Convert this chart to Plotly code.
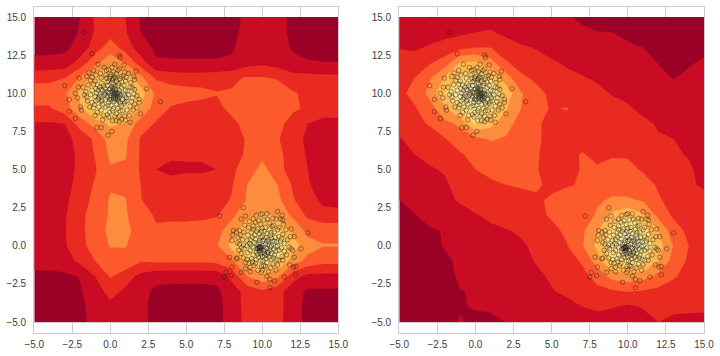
import plotly.graph_objects as go

x_nodes = list(range(-5, 16))
y_nodes = list(range(15, -6, -1))
tick_vals = [-5, -2.5, 0, 2.5, 5, 7.5, 10, 12.5, 15]
tick_text = ["−5.0", "−2.5", "0.0", "2.5", "5.0", "7.5", "10.0", "12.5", "15.0"]
band_colors = ["#9b0026", "#c90c24", "#e92a21", "#fc5a2d", "#fd8c3c", "#feb751", "#fedb79", "#ffefa6"]
contour_levels = (0.5, 6.5, 1)

left_z = [
 [0,0,0,.5,1.6,1.9,1.5,.4,.1,.1,.1,.1,.1,.2,.7,.9,.8,.3,.1,.1,.1],
 [.1,.1,.1,.55,1.6,2.1,1.6,.5,.2,.15,.15,.15,.15,.25,.8,1.0,.85,.3,.1,.1,.1],
 [.25,.25,.3,.8,2.0,3.0,2.1,.9,.35,.3,.3,.3,.3,.4,.9,1.1,.9,.4,.3,.25,.25],
 [.75,.75,.85,1.9,3.2,4.2,3.4,2.0,.6,.58,.58,.58,.58,.62,1.1,1.3,1.1,.75,.55,.52,.52],
 [2.3,2.3,2.5,3.6,5,5.6,5.3,3.8,2.4,2.1,2.0,2.0,2.1,2.3,2.6,2.6,2.4,1.9,1.9,1.8,1.8],
 [2.9,2.9,3.3,4.8,6.5,7.5,6.8,5,3.3,3.0,2.9,2.8,2.55,2.6,3.2,3.4,3.3,2.6,2.3,2.3,2.3],
 [2.4,2.4,3.0,4.3,5.8,6.5,6,4.4,3.0,2.4,2.2,2.1,2.2,2.8,3.1,3.3,3.2,2.7,2.3,1.8,1.8],
 [1.4,1.4,1.5,2.9,3.9,4.7,4.4,3.0,2.4,2.1,2.0,2.0,2.0,2.2,2.9,3.1,2.9,2.0,1.5,1.3,1.3],
 [1.0,1.0,1.2,1.8,2.7,3.9,3.7,2.4,2.1,1.9,1.8,1.8,1.8,2.0,2.6,2.9,2.6,1.9,1.3,1.0,1.0],
 [.9,.9,1.1,1.7,2.55,3.7,3.6,2.4,2.0,1.65,1.6,1.6,1.6,1.9,2.7,3.3,2.8,2.0,1.4,.9,.9],
 [.9,.9,1.1,1.7,2.4,3.4,3.3,2.4,1.5,1.3,1.4,1.4,1.5,2.3,3.0,3.8,2.9,2.0,1.5,1.0,1.0],
 [.9,.9,1.1,1.9,2.6,3.4,3.3,2.5,1.9,1.8,1.8,1.8,1.8,2.4,3.5,4.0,3.5,2.4,1.6,1.0,1.0],
 [1.1,1.1,1.3,2.0,2.8,3.6,3.55,2.55,2.0,1.9,1.9,1.9,2.0,2.6,3.6,4.1,3.8,2.6,1.9,1.3,1.2],
 [1.0,1.0,1.4,2.2,3.0,3.6,3.6,2.9,2.4,2.3,2.3,2.3,2.4,3.3,4.2,4.7,4.3,3.3,2.3,1.8,1.8],
 [1.2,1.2,1.45,2.2,3.1,3.7,3.75,3.1,2.6,2.8,2.8,2.9,3.2,4.0,5.3,5.9,5.6,4.3,3.2,3.2,3.2],
 [1.1,1.1,1.4,2.2,2.9,3.55,3.55,3.0,3.0,3.0,3.0,3.1,3.4,4.9,6.2,7.5,6.8,5,3.9,3.55,3.55],
 [1.0,1.0,1.1,1.7,2.5,3.0,3.2,2.6,2.7,2.7,2.7,2.7,2.8,3.3,5.0,6.2,5.6,4.0,3.2,2.8,2.8],
 [.2,.2,.3,.55,1.5,2.6,2.0,1.2,.8,.75,.75,.75,.8,1.8,3.5,4.3,3.7,1.9,1.2,1.2,1.2],
 [.2,.2,.25,.4,.95,1.9,1.3,.8,.3,.25,.25,.25,.3,1.0,1.9,2.3,1.9,.9,.35,.35,.35],
 [.1,.1,.1,.25,.9,1.2,1,.75,.2,.1,.1,.1,.15,1.0,1.8,2.0,1.9,.9,.25,.2,.2],
 [.05,.05,.05,.2,.85,1.1,1,.8,.2,.1,.1,.1,.15,1.0,1.8,1.9,1.85,.9,.25,.2,.2],
]

right_z = [
 [.8,.7,.45,.6,.85,1.0,1.0,.95,.9,.8,.7,.55,.4,.25,.2,.15,.1,.1,.1,.1,.1],
 [1.0,.95,1.1,1.2,1.3,1.5,1.6,1.25,1.1,.95,.85,.75,.6,.52,.5,.35,.3,.25,.2,.2,.2],
 [1.45,1.35,1.6,1.85,2.2,2.5,2.5,2.0,1.6,1.45,1.2,1.0,.85,.8,.75,.6,.5,.4,.3,.3,.3],
 [2.0,2.0,2.4,3.0,4.6,4.7,3.9,2.6,2.1,1.8,1.6,1.4,1.3,1.1,1.0,.85,.7,.48,.35,.4,.62],
 [2.2,2.5,3.4,4.6,5.7,6.2,5.5,4.0,2.7,2.3,2.0,1.7,1.55,1.4,1.2,1.1,.9,.7,.47,.7,.85],
 [2.3,2.75,3.8,5.5,7.2,7.6,6.9,5.1,3.6,2.8,2.3,2.0,1.8,1.7,1.45,1.3,1.15,1.0,.9,.9,1.0],
 [2.0,2.4,3.1,4.3,5.8,6.7,6.0,4.6,3.5,2.7,2.45,2.55,1.95,1.85,1.75,1.6,1.3,1.2,1.05,1.0,1.0],
 [1.7,2.2,2.6,3.2,3.7,5.6,4.8,3.9,3.1,2.6,2.3,2.2,2.1,2.0,1.95,1.85,1.7,1.4,1.2,1.1,1.1],
 [1.45,1.7,2.0,2.45,3.0,3.2,3.6,3.4,2.9,2.55,2.4,2.3,2.2,2.2,2.15,2.0,1.85,1.6,1.5,1.35,1.3],
 [1.1,1.5,1.75,2.1,2.4,2.8,3.0,3.0,2.8,2.55,2.3,2.3,2.55,2.3,2.4,2.4,2.2,2.0,1.6,1.45,1.3],
 [.95,1.15,1.4,1.6,2.2,2.5,2.8,2.85,2.75,2.55,2.2,2.25,2.55,2.6,2.8,2.75,2.4,2.1,1.8,1.6,1.3],
 [.8,1.0,1.15,1.35,1.9,2.1,2.3,2.5,2.55,2.6,2.35,2.4,2.6,3.0,3.2,3.15,2.85,2.4,2.1,1.6,1.4],
 [.5,.75,.95,1.3,1.6,1.9,2.0,2.1,2.35,2.4,2.6,2.95,3.2,3.4,3.6,3.6,3.4,2.6,2.2,2.0,1.7],
 [.3,.45,.85,1.0,1.2,1.45,1.65,1.85,2.1,2.3,2.6,2.9,3.1,3.6,4.8,5.4,4.7,3.2,2.35,2.0,1.9],
 [.25,.35,.4,.55,.9,1.15,1.35,1.45,1.6,2.0,2.3,2.65,3.3,4.4,6,6.7,6,4.5,2.9,2.3,2.1],
 [.15,.25,.3,.55,.8,1.05,1.2,1.35,1.4,1.65,2.0,2.45,3.4,4.8,6.5,7.6,6.8,5.0,3.45,2.5,2.2],
 [.1,.15,.2,.35,.65,.95,1.1,1.2,1.3,1.55,1.85,2.15,2.6,4.0,5.8,6.3,5.9,4.5,3.1,2.35,2.1],
 [.1,.12,.15,.3,.6,.85,1.0,1.1,1.2,1.35,1.6,1.9,2.2,2.9,3.9,4.1,3.9,3.2,2.6,2.2,1.95],
 [.1,.1,.12,.25,.48,.55,.9,1.0,1.1,1.25,1.45,1.65,1.9,2.2,2.35,2.55,2.4,2.25,2.1,1.85,1.8],
 [.05,.1,.1,.2,.45,.55,.6,.85,1.0,1.1,1.2,1.25,1.5,1.65,1.55,1.35,1.55,1.95,1.6,1.65,1.65],
 [.05,.1,.1,.3,.55,.35,.35,.5,.8,.9,1.0,1.05,1.0,1.15,1.1,1.1,1.25,1.5,1.4,1.3,1.25],
]

cluster_a = [
 (-1.7,14.0),(-1.2,12.6),(.6,12.5),(.65,12.35),(-3.0,10.5),(-2.7,9.6),(-2.7,8.8),(-2.3,8.35),(-2.3,10.0),(-2.15,9.7),
 (-2.05,11.0),(-2.1,10.4),(-1.8,10.4),(-1.95,9.1),(-1.9,8.9),(-.9,7.75),(-.6,7.75),(-.15,7.25),(.1,7.5),(2.4,10.3),
 (3.3,9.45),(2.0,8.65),(1.9,9.4),(1.9,9.6),(1.7,11.45),(1.55,11.1),(1.6,10.9),(1.3,8.1),(.6,8.15),(.4,8.2),
 (-1.1,11.5),(-1.4,11.35),(-1.55,11.1),(-.8,11.9),(-.4,11.7),(.3,11.9),(.9,11.85),(.6,11.6),(.1,11.7),(-.1,11.55),
 (-1.6,10.1),(-1.5,9.5),(-1.7,9.9),(-1.2,9.4),(-1.0,8.55),(-.6,8.9),(-.2,8.6),(-.1,8.45),(.3,8.5),(.6,8.5),
 (.95,8.5),(1.1,8.9),(1.5,8.9),(1.6,9.3),(1.6,10.25),(1.35,10.7),(1.2,11.3),(1.0,10.8),(.7,11.1),(.4,11.3),
 (.2,11.0),(0,11.1),(-.3,11.2),(-.6,11.0),(-1.0,10.8),(-1.1,10.6),(-1.2,10.2),(-.9,10.0),(-1.0,9.8),(-.8,9.6),
 (-.7,10.4),(-.5,10.2),(-.4,9.9),(-.3,9.6),(-.5,9.3),(-.3,9.1),(-.1,9.4),(0,9.7),(.1,10.0),(.2,9.8),
 (.3,10.1),(.3,9.9),(.35,9.6),(.4,9.3),(.5,9.0),(.2,9.0),(0,10.3),(-.2,10.5),(-.1,10.8),(.2,10.6),
 (.4,10.8),(.5,10.5),(.6,10.2),(.7,9.9),(.8,9.6),(.9,9.3),(1.1,9.5),(1.2,9.9),(1.0,10.2),(1.3,10.4),
 (.9,10.5),(.6,9.7),(.5,9.8),(.1,10.4),(-.2,10.1),(-.6,9.8),(-.8,10.2),(-.95,9.5),(-.3,9.95),(.05,9.55),
 (.25,10.3),(.45,10.0),(.15,10.15),(.3,11.05),(.35,10.95),(.15,10.9),(-.05,10.95),(-.35,10.35),(-.55,9.55),(.75,9.2),
 (.55,9.5),(.95,9.85),(1.45,9.7),(1.3,9.15),(-1.3,10.85),(-.55,10.65),(.75,10.75),(-.75,9.1),(.15,8.85),(.8,8.85),
 (-1.45,10.55),(-1.3,9.9),(-1.35,9.1),(-1.1,9.05),(-.85,8.75),(-.45,8.55),(-.05,8.75),(.4,8.65),(.75,8.3),(1.0,8.25),
 (1.25,8.55),(1.4,9.45),(1.75,9.05),(1.75,9.85),(1.45,10.35),(1.05,11.05),(.95,11.4),(.5,11.5),(.2,11.4),(-.25,11.5),
 (-.65,11.3),(-.95,11.2),(-1.2,11.05),(-.85,10.55),(-.7,9.9),(-.6,9.45),(-.2,9.75),(-.15,9.2),(.05,9.2),(.25,9.45),
 (.65,9.35),(.45,9.6),(.2,9.65),(.05,9.85),(-.1,10.05),(-.05,10.25),(.15,10.3),(.35,10.25),(.55,10.05),(.75,10.35),
 (.55,10.65),(.3,10.45),(.1,10.7),(-.2,10.75),(-.45,10.5),(-.6,10.25),(-.35,10.05),(.4,9.95),(.6,9.95),(.28,10.0),
 (.22,9.95),(.35,9.75),(.5,9.65),(-.05,9.6),(.85,9.95),(1.05,9.7),(.95,9.45),(1.15,10.15),(-.95,10.3),(-.75,9.75),
 (-.25,11.0),(.05,11.25),(.65,10.95),(.85,11.15),(-.5,8.25),(.15,8.2),(-1.55,9.75),(-1.05,9.25),(1.55,9.95),(.65,8.85),
]

cluster_b = [
 (7.2,1.95),(8.75,2.5),(7.85,-.75),(8.0,-1.4),(7.95,-1.95),(7.6,-1.75),(7.5,-2.05),(8.6,-1.75),(9.65,-2.4),(10.3,-2.0),
 (10.5,-2.2),(10.8,-2.3),(10.5,-2.75),(11.45,-2.05),(12.2,-1.9),(12.2,-1.35),(12.05,-1.4),(11.8,-1.25),(12.1,-.75),(12.55,-.2),
 (13.0,.85),(11.9,1.1),(12.1,.6),(11.85,.6),(11.0,2.25),(11.3,2.0),(11.2,1.75),(9.9,2.05),(10.0,2.1),(10.3,2.1),
 (8.1,1.0),(8.05,.7),(8.0,.35),(8.3,-.85),(8.35,-.8),(8.3,.9),(8.6,1.75),(8.9,1.95),(9.4,1.75),(9.6,2.0),
 (10.7,1.8),(10.9,1.75),(11.4,1.4),(11.65,.4),(11.75,-.1),(11.9,-.2),(11.6,-.6),(11.3,-.7),(10.9,-1.6),(10.4,-1.7),
 (10.1,-1.3),(9.7,-1.6),(9.2,-1.4),(9.0,-.9),(8.6,-.5),(8.5,.1),(8.7,.4),(8.8,.9),(9.1,1.2),(9.4,1.3),
 (9.7,1.1),(9.9,1.4),(10.2,1.2),(10.5,1.1),(10.8,.9),(11.1,.6),(11.2,.3),(11.0,.0),(11.1,-.3),(10.8,-.6),
 (10.6,-.9),(10.3,-1.1),(9.9,-1.0),(9.6,-.9),(9.4,-.6),(9.2,-.3),(9.0,.0),(9.2,.4),(9.5,.7),(9.8,.8),
 (10.0,.6),(10.3,.8),(10.6,.5),(10.8,.3),(10.6,.0),(10.5,-.3),(10.3,-.6),(10.0,-.7),(9.8,-.4),(9.6,-.2),
 (9.5,.2),(9.8,.2),(10.0,.3),(10.2,.1),(10.3,-.2),(10.1,-.3),(9.9,-.1),(9.8,-.15),(9.75,-.05),(9.85,-.2),
 (10.4,.4),(10.05,.0),(10.15,-.5),(10.45,.25),(10.75,-.2),(10.95,-.9),(9.3,.9),(9.05,.7),(8.8,-.2),(9.35,-1.05),
 (9.55,.45),(9.25,.05),(9.7,-.55),(10.25,-.85),(10.55,.7),(10.15,.95),(9.95,.95),(11.35,.75),(11.45,-.35),(8.4,.55),
 (10.0,-1.6),(9.45,-1.3),(8.9,-1.1),(10.7,-1.2),(11.1,1.2),(9.0,.35),(10.9,-.05),(9.55,1.55),(10.45,1.5),(10.2,-1.35),
 (8.5,1.0),(8.85,1.35),(9.15,1.6),(9.75,1.65),(10.1,1.7),(10.35,1.75),(10.75,1.35),(11.0,1.05),(11.55,1.05),(11.45,.15),
 (11.25,-.15),(11.1,-.95),(10.55,-1.45),(9.95,-1.35),(9.55,-1.15),(9.1,-1.15),(8.75,-.8),(8.45,-.3),(8.75,.05),(9.05,-.45),
 (9.3,-.85),(9.75,-.75),(10.05,-1.0),(10.45,-.75),(10.9,-.35),(10.85,.55),(10.6,.85),(10.25,.55),(9.9,.55),(9.65,.95),
 (9.35,.55),(9.15,.15),(9.4,-.1),(9.6,-.4),(9.9,-.55),(10.15,-.65),(10.4,-.45),(10.55,-.1),(10.45,.05),(10.3,.3),
 (10.1,.4),(9.85,.35),(9.65,.1),(9.7,-.2),(9.9,-.3),(10.0,-.45),(9.95,-.15),(9.82,-.1),(9.72,-.15),(9.88,-.05),
 (10.2,-.1),(10.35,-.4),(10.6,-.5),(10.75,-.8),(11.25,.45),(10.95,.25),(10.65,.3),(8.65,-.1),(8.55,.7),(9.4,1.05),
 (10.0,1.15),(10.65,1.25),(11.35,1.7),(9.2,-1.7),(9.95,-1.75),(11.0,-1.25),(11.35,-.95),(8.35,.2),(12.0,-.3),(8.9,-1.5),
]

def unzip(points):
    return [p[0] for p in points], [p[1] for p in points]

points_x, points_y = unzip(cluster_a + cluster_b)

def stepped(colors):
    n = len(colors)
    scale = []
    for i, c in enumerate(colors):
        scale += [[i / n, c], [(i + 1) / n, c]]
    return scale

fig = go.Figure()
for z, xa, ya in ((left_z, "x", "y"), (right_z, "x2", "y2")):
    fig.add_trace(go.Contour(
        x=x_nodes, y=y_nodes[::-1], z=z[::-1], xaxis=xa, yaxis=ya,
        colorscale=stepped(band_colors), zmin=-.5, zmax=7.5, showscale=False,
        autocontour=False, line=dict(width=0, smoothing=0), hoverinfo="skip",
        contours=dict(coloring="fill", showlines=False, start=contour_levels[0],
                      end=contour_levels[1], size=contour_levels[2]),
    ))
    fig.add_trace(go.Scatter(
        x=points_x, y=points_y, mode="markers", xaxis=xa, yaxis=ya, hoverinfo="skip",
        marker=dict(size=4.5, color="rgba(0,0,0,0)",
                    line=dict(color="rgba(20,20,20,0.42)", width=1)),
    ))

W, H = 720, 356
top, bottom = 7.3, 332.7
y_dom = [1 - bottom / H, 1 - top / H]
axis_common = dict(
    showline=True, mirror=True, linecolor="#cccccc", linewidth=1.25, automargin=False,
    showgrid=True, gridcolor="#cccccc", gridwidth=1, zeroline=False,
    ticks="", tickmode="array", tickvals=tick_vals, ticktext=tick_text,
    tickfont=dict(family="Liberation Sans, Arial, sans-serif", size=10, color="#404040"),
)
fig.update_layout(
    width=W, height=H, margin=dict(l=0, r=0, t=0, b=0, autoexpand=False),
    paper_bgcolor="white", plot_bgcolor="white", showlegend=False,
    xaxis=dict(domain=[34.3 / W, 338.3 / W], range=[-5, 15], anchor="y", ticklabelstandoff=2, **axis_common),
    yaxis=dict(domain=y_dom, range=[-5.70, 15.64], anchor="x", ticklabelstandoff=5, **axis_common),
    xaxis2=dict(domain=[399.3 / W, 704 / W], range=[-5, 15], anchor="y2", ticklabelstandoff=2, **axis_common),
    yaxis2=dict(domain=y_dom, range=[-5.70, 15.64], anchor="x2", ticklabelstandoff=5, **axis_common),
)
fig.write_html("out.html", config={"displayModeBar": False},
               post_script="document.body.style.margin='0';")
